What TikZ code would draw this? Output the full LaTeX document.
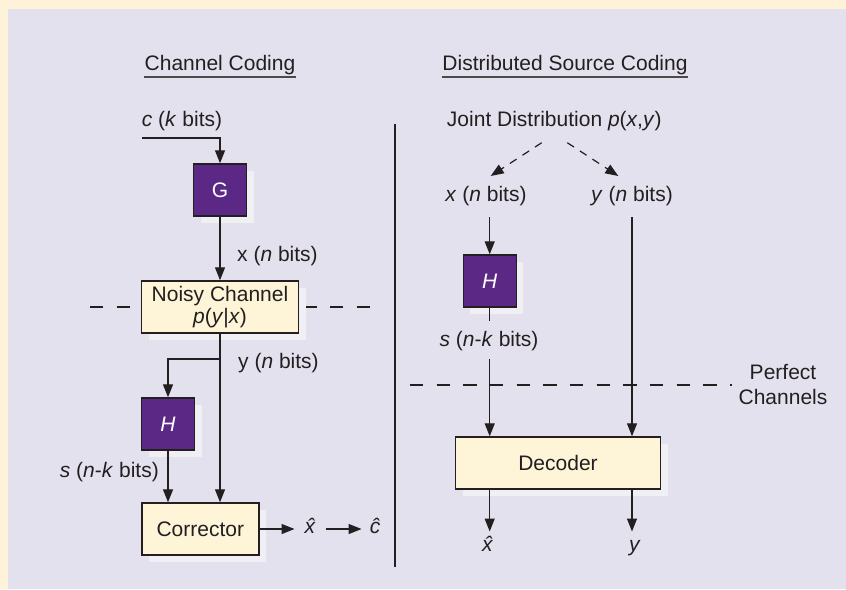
\documentclass[tikz,border=0pt]{standalone}
\usepackage{fontspec}
\setmainfont{Liberation Sans}
\usetikzlibrary{arrows.meta,shadows}
\definecolor{framecol}{HTML}{FEF3D8}
\definecolor{panelcol}{HTML}{E4E1EE}
\definecolor{plum}{HTML}{5B2886}
\definecolor{boxcream}{HTML}{FEF4D8}
\definecolor{ink}{HTML}{231F20}
\definecolor{shade}{HTML}{F0EFF3}
\definecolor{rulecol}{HTML}{4A4A4A}

\begin{document}
\begin{tikzpicture}[x=1pt,y=-1pt,
  every node/.style={font=\fontsize{21}{22.3}\selectfont, text=ink},
  lbl/.style={inner sep=0pt},
  castshadow/.style={general shadow={fill=shade, shadow xshift=7pt, shadow yshift=-7pt}},
  blk/.style={draw=ink, line width=1.4pt, fill=plum, text=white,
    minimum width=53pt, minimum height=52pt, inner sep=0pt, castshadow},
  pale/.style={draw=ink, line width=1.4pt, fill=boxcream,
    minimum height=52pt, inner sep=0pt, align=center, castshadow},
  wire/.style={draw=ink, line width=1.3pt},
  flow/.style={wire, -{Triangle[length=13pt,width=10pt]}},
  split/.style={draw=ink, line width=1.2pt, dash pattern=on 8pt off 7pt,
    -{Triangle[length=13pt,width=10pt]}},
  cut/.style={draw=ink, line width=2.6pt, dash pattern=on 13.33pt off 13.33pt},
  uline/.style={draw=rulecol, line width=1.8pt}]

% frame and panel
\fill[framecol] (0,0) rectangle (846,589);
\fill[panelcol] (8,9) rectangle (846,589);
\useasboundingbox (0,0) rectangle (846,589);

% headings
\node[lbl, anchor=base] (t1) at (220,70.7) {Channel Coding};
\node[lbl, anchor=base] (t2) at (565,70.7) {Distributed Source Coding};
\draw[uline] ([yshift=-6.6pt]t1.base west) -- ([yshift=-6.6pt]t1.base east);
\draw[uline] ([yshift=-6.6pt]t2.base west) -- ([yshift=-6.6pt]t2.base east);

% separator between the two halves
\coordinate (sepTop) at (395,124);
\coordinate (sepBot) at (395,567);
\draw[wire] (sepTop) -- (sepBot);

% channel boundary lines
\coordinate (cutL1) at (90,307);
\coordinate (cutL2) at (370,307);
\draw[cut] (cutL1) -- (cutL2);
\coordinate (cutR1) at (410,385);
\coordinate (cutR2) at (732,385);
\draw[cut] (cutR1) -- (cutR2);

% ---------- channel coding ----------
\node[lbl, anchor=base] (cl) at (182,126.7) {\textit{c} (\textit{k} bits)};
\coordinate (cin) at (142,138);
\node[blk] (g) at (220,190) {G};
\draw[flow] (cin) -| (g.north);

\node[pale, minimum width=157pt] (noisy) at (220,307)
  {Noisy Channel\\\textit{p}(\textit{y}|\textit{x})};
\draw[flow] (g.south) -- (noisy.north);
\node[lbl, anchor=base west] (xl) at (237,261) {x (\textit{n} bits)};

\node[lbl, anchor=base west] (yl) at (238,368.3) {y (\textit{n} bits)};
\node[blk] (hl) at (168,424) {\textit{H}};
\node[pale, minimum width=117pt] (corr) at (200.3,529) {Corrector};
\coordinate (tap) at (220,359);
\draw[flow] (noisy.south) -- (noisy.south |- corr.north);
\draw[flow] (tap) -| (hl.north);
\draw[flow] (hl.south) -- (hl.south |- corr.north);
\node[lbl, anchor=base east] (sl) at (159,477.3) {\textit{s} (\textit{n}-\textit{k} bits)};

\node[lbl, anchor=base] (xh) at (311.7,533.5) {\textit{\^{x}}};
\node[lbl, anchor=base] (ch) at (375,533.5) {\textit{\^{c}}};
\draw[flow, shorten >=10pt] (corr.east) -- (corr.east -| xh.west);
\draw[flow, shorten <=7pt, shorten >=8pt] (xh.east |- corr.east) -- (ch.west |- corr.east);

% ---------- distributed source coding ----------
\node[lbl, anchor=base] (jd) at (554.3,126.5)
  {Joint Distribution \textit{p}(\textit{x},\textit{y})};
\node[lbl, anchor=base] (xr) at (486,201.7) {\textit{x} (\textit{n} bits)};
\node[lbl, anchor=base] (yr) at (632,201.7) {\textit{y} (\textit{n} bits)};
\coordinate (jdL) at (541.7,142.7);
\coordinate (jdR) at (567.3,142.7);
\coordinate (toX) at (490.7,176);
\coordinate (toY) at (618.3,176);
\draw[split] (jdL) -- (toX);
\draw[split] (jdR) -- (toY);

\node[blk] (h2) at (489.7,281) {\textit{H}};
\draw[flow] ([yshift=-11pt]h2.north |- xr.south) -- (h2.north);
\node[lbl, anchor=base] (sr) at (489,346.7) {\textit{s} (\textit{n}-\textit{k} bits)};
\draw[wire] (h2.south) -- ([yshift=10pt]h2.south |- sr.north);

\node[pale, minimum width=205pt] (dec) at (558,463) {Decoder};
\draw[flow] ([yshift=-8pt]h2.south |- sr.south) -- (h2.south |- dec.north);
\draw[flow] ([yshift=-11pt]yr.south) -- (yr.south |- dec.north);

\node[lbl, anchor=base] (xo) at (489,551) {\textit{\^{x}}};
\node[lbl, anchor=base] (yo) at (635,551) {\textit{y}};
\draw[flow] (h2.south |- dec.south) -- ([yshift=4pt]h2.south |- xo.north);
\draw[flow] (yr.south |- dec.south) -- ([yshift=4pt]yr.south |- xo.north);

\node[align=center, inner sep=0pt, font=\fontsize{21}{25.7}\selectfont]
  (pc) at (783,384.5) {Perfect\\Channels};
\end{tikzpicture}
\end{document}
